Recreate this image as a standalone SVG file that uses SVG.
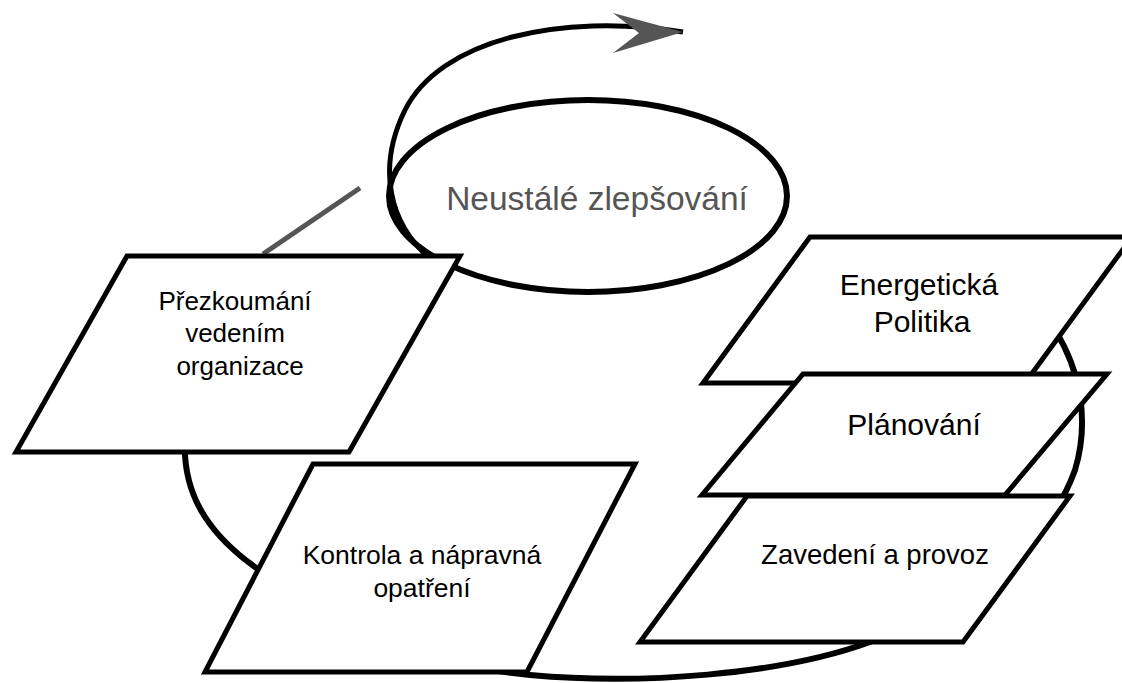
<svg xmlns="http://www.w3.org/2000/svg" width="1122" height="683" viewBox="0 0 1122 683">
<style>
.para{fill:#fff;stroke:#000;stroke-width:5;stroke-linejoin:miter}
.lbl{font-family:"Liberation Sans",Arial,sans-serif;fill:#000;text-anchor:middle}
.cyc{fill:none;stroke:#000;stroke-width:6}
</style>
<rect width="1122" height="683" fill="#fff"/>
<g id="connectors">
<path class="cyc" d="M185,440 C182,500 215,540 262,572 C330,620 420,665 530,675 C640,685 780,675 870,642 C980,600 1050,540 1075,470 C1090,420 1080,370 1055,330"/>
<line x1="263" y1="254" x2="360" y2="188" stroke="#555" stroke-width="5"/>
<path d="M683,32 C560,12 440,40 405,110 C378,165 385,225 438,265" fill="none" stroke="#000" stroke-width="5"/>
<polygon points="613,13 683,32 613,53 639,33" fill="#555"/>
</g>
<g id="node-improvement">
<ellipse cx="588" cy="196" rx="199" ry="96" fill="none" stroke="#000" stroke-width="6"/>
<text x="597" y="210" font-family="Liberation Sans,Arial,sans-serif" font-size="33.5" fill="#555" text-anchor="middle">Neustálé zlepšování</text>
</g>
<g id="node-review">
<polygon class="para" points="127,256 460,256 349,452 16,452"/>
<text class="lbl" font-size="26"><tspan x="235" y="310">Přezkoumání</tspan><tspan x="235" y="342">vedením</tspan><tspan x="240" y="375">organizace</tspan></text>
</g>
<g id="node-check">
<polygon class="para" points="313,464 635,464 527,672 205,672"/>
<text class="lbl" font-size="26.5"><tspan x="422" y="564">Kontrola a nápravná</tspan><tspan x="422" y="597">opatření</tspan></text>
</g>
<g id="node-policy">
<polygon class="para" points="810,237 1132,237 1025,383 703,383"/>
<text class="lbl" font-size="30"><tspan x="919" y="295">Energetická</tspan><tspan x="922" y="332">Politika</tspan></text>
</g>
<g id="node-planning">
<polygon class="para" points="803,374 1107,374 1005,495 702,495"/>
<text class="lbl" font-size="30" x="914" y="435">Plánování</text>
</g>
<g id="node-operation">
<polygon class="para" points="747,496 1070,496 963,642 640,642"/>
<text class="lbl" font-size="27.5" x="875" y="564">Zavedení a provoz</text>
</g>
</svg>
